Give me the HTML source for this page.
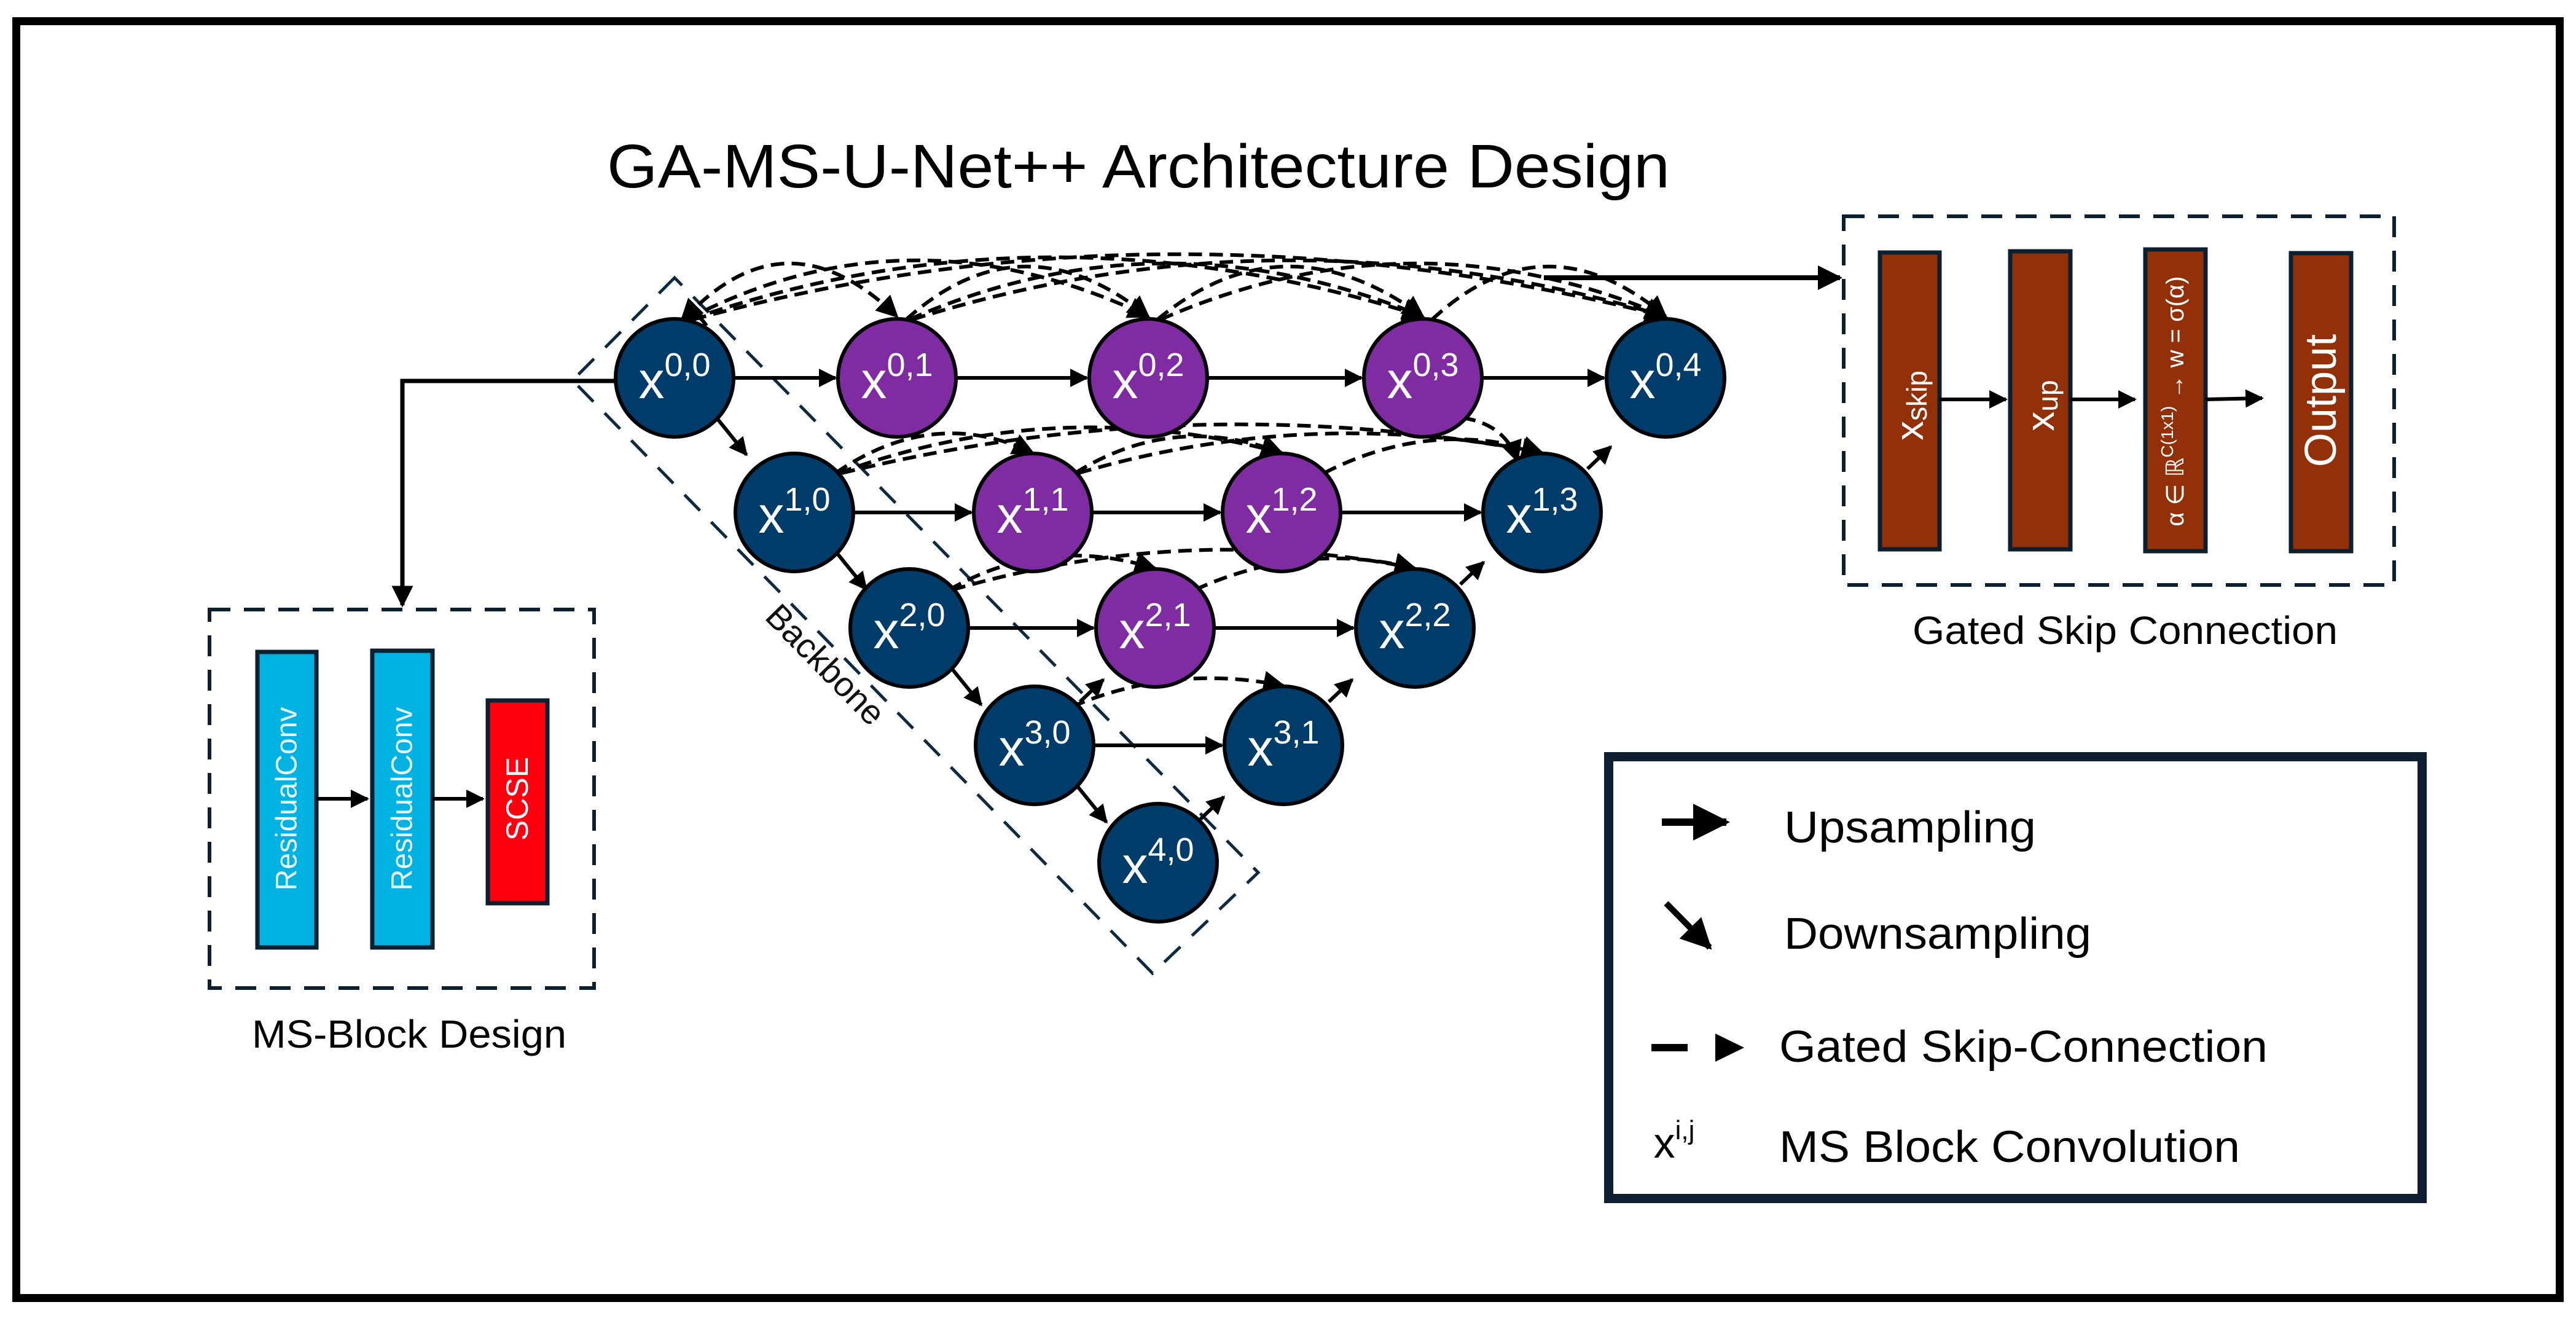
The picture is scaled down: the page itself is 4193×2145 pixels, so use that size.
<!DOCTYPE html>
<html><head><meta charset="utf-8"><style>html,body{margin:0;padding:0;background:#fff}svg{display:block}</style></head>
<body>
<svg xmlns="http://www.w3.org/2000/svg" width="4193" height="2145" viewBox="0 0 4193 2145" font-family="Liberation Sans, sans-serif">
<defs>
<marker id="ah" viewBox="0 0 10 10" refX="9" refY="5" markerWidth="5" markerHeight="5" orient="auto" markerUnits="strokeWidth"><path d="M0,0 L10,5 L0,10 z" fill="#000"/></marker>
<marker id="ahs" viewBox="0 0 10 10" refX="9" refY="5" markerWidth="6" markerHeight="6" orient="auto" markerUnits="strokeWidth"><path d="M0,0 L10,5 L0,10 z" fill="#000"/></marker>
</defs>
<rect x="0" y="0" width="4193" height="2145" fill="#fff"/>
<rect x="26.5" y="34.5" width="4140" height="2078" fill="none" stroke="#000" stroke-width="13"/>

<text x="1853" y="305" font-size="100" text-anchor="middle" textLength="1730" lengthAdjust="spacingAndGlyphs">GA-MS-U-Net++ Architecture Design</text>

<!-- backbone -->
<polygon points="1098,452 932,619 1876,1584 2048,1420" fill="none" stroke="#0d2a40" stroke-width="5" stroke-dasharray="36,26"/>
<text transform="translate(1330,1095) rotate(45.6)" font-size="56" text-anchor="middle" fill="#111">Backbone</text>

<!-- input lines -->
<path d="M1001,620 L655,620 L655,985" fill="none" stroke="#000" stroke-width="7" marker-end="url(#ah)"/>
<path d="M2513,452 L2995,452" fill="none" stroke="#000" stroke-width="8" marker-end="url(#ah)"/>

<!-- dashed skip arcs row0 -->
<g fill="none" stroke="#000" stroke-width="6" stroke-dasharray="22,12" marker-end="url(#ahs)">
<path d="M1113,520 Q1279,340 1460,515"/>
<path d="M1118,520 Q1480,330 1869,515"/>
<path d="M1123,520 Q1700,320 2316,515"/>
<path d="M1128,520 Q1900,310 2711,515"/>
<path d="M1475,520 Q1665,350 1869,515"/>
<path d="M1480,520 Q1890,340 2316,515"/>
<path d="M1485,520 Q2090,330 2711,515"/>
<path d="M1884,520 Q2090,350 2316,515"/>
<path d="M1889,520 Q2300,340 2711,515"/>
<path d="M2331,520 Q2515,350 2711,515"/>
<path d="M1150,530 Q1130,500 1110,520" />
<!-- row1 -->
<path d="M1360,770 Q1520,660 1681,737"/>
<path d="M1365,770 Q1720,640 2086,737"/>
<path d="M1370,770 Q1940,630 2510,737"/>
<path d="M1750,770 Q1910,670 2086,737"/>
<path d="M1755,770 Q2130,660 2510,737"/>
<path d="M2155,770 Q2330,680 2510,737"/>
<path d="M2380,680 Q2450,690 2470,750"/>
<!-- row2 -->
<path d="M1545,960 Q1700,870 1880,925"/>
<path d="M1550,960 Q1930,850 2303,925"/>
<path d="M1945,960 Q2120,880 2303,925"/>
<!-- row3 -->
<path d="M1745,1150 Q1910,1080 2089,1116"/>
</g>

<!-- solid horizontal arrows -->
<g stroke="#000" stroke-width="6" marker-end="url(#ah)">
<line x1="1195" y1="615" x2="1360" y2="615"/>
<line x1="1557" y1="615" x2="1769" y2="615"/>
<line x1="1966" y1="615" x2="2216" y2="615"/>
<line x1="2413" y1="615" x2="2611" y2="615"/>
<line x1="1390" y1="834" x2="1581" y2="834"/>
<line x1="1778" y1="834" x2="1986" y2="834"/>
<line x1="2183" y1="834" x2="2410" y2="834"/>
<line x1="1577" y1="1022" x2="1780" y2="1022"/>
<line x1="1977" y1="1022" x2="2203" y2="1022"/>
<line x1="1781" y1="1213" x2="1989" y2="1213"/>
<!-- down arrows -->
<line x1="1168" y1="682" x2="1215" y2="740"/>
<line x1="1363" y1="901" x2="1410" y2="959"/>
<line x1="1550" y1="1089" x2="1597" y2="1147"/>
<line x1="1754" y1="1280" x2="1801" y2="1338"/>
<!-- up arrows -->
<line x1="2584" y1="763" x2="2622" y2="727"/>
<line x1="2377" y1="951" x2="2415" y2="915"/>
<line x1="2163" y1="1142" x2="2201" y2="1106"/>
<line x1="1954" y1="1333" x2="1992" y2="1297"/>
<line x1="1758" y1="1142" x2="1796" y2="1106"/>
</g>

<!-- nodes -->
<g stroke="#000" stroke-width="6">
<circle cx="1098" cy="615" r="96" fill="#003c69"/>
<circle cx="1460" cy="615" r="96" fill="#7f2ba1"/>
<circle cx="1869" cy="615" r="96" fill="#7f2ba1"/>
<circle cx="2316" cy="615" r="96" fill="#7f2ba1"/>
<circle cx="2711" cy="615" r="96" fill="#003c69"/>
<circle cx="1293" cy="834" r="96" fill="#003c69"/>
<circle cx="1681" cy="834" r="96" fill="#7f2ba1"/>
<circle cx="2086" cy="834" r="96" fill="#7f2ba1"/>
<circle cx="2510" cy="834" r="96" fill="#003c69"/>
<circle cx="1480" cy="1022" r="96" fill="#003c69"/>
<circle cx="1880" cy="1022" r="96" fill="#7f2ba1"/>
<circle cx="2303" cy="1022" r="96" fill="#003c69"/>
<circle cx="1684" cy="1213" r="96" fill="#003c69"/>
<circle cx="2089" cy="1213" r="96" fill="#003c69"/>
<circle cx="1885" cy="1404" r="96" fill="#003c69"/>
</g>
<g fill="#fff" font-size="84" text-anchor="middle">
<text x="1098" y="648">x<tspan font-size="54" dy="-36">0,0</tspan></text>
<text x="1460" y="648">x<tspan font-size="54" dy="-36">0,1</tspan></text>
<text x="1869" y="648">x<tspan font-size="54" dy="-36">0,2</tspan></text>
<text x="2316" y="648">x<tspan font-size="54" dy="-36">0,3</tspan></text>
<text x="2711" y="648">x<tspan font-size="54" dy="-36">0,4</tspan></text>
<text x="1293" y="867">x<tspan font-size="54" dy="-36">1,0</tspan></text>
<text x="1681" y="867">x<tspan font-size="54" dy="-36">1,1</tspan></text>
<text x="2086" y="867">x<tspan font-size="54" dy="-36">1,2</tspan></text>
<text x="2510" y="867">x<tspan font-size="54" dy="-36">1,3</tspan></text>
<text x="1480" y="1055">x<tspan font-size="54" dy="-36">2,0</tspan></text>
<text x="1880" y="1055">x<tspan font-size="54" dy="-36">2,1</tspan></text>
<text x="2303" y="1055">x<tspan font-size="54" dy="-36">2,2</tspan></text>
<text x="1684" y="1246">x<tspan font-size="54" dy="-36">3,0</tspan></text>
<text x="2089" y="1246">x<tspan font-size="54" dy="-36">3,1</tspan></text>
<text x="1885" y="1437">x<tspan font-size="54" dy="-36">4,0</tspan></text>
</g>

<!-- MS block -->
<rect x="341" y="992" width="626" height="616" fill="none" stroke="#0d2030" stroke-width="6" stroke-dasharray="34,22"/>
<rect x="419" y="1061" width="96" height="481" fill="#00b2e2" stroke="#0d2030" stroke-width="7"/>
<rect x="606" y="1059" width="98" height="483" fill="#00b2e2" stroke="#0d2030" stroke-width="7"/>
<rect x="794" y="1140" width="97" height="330" fill="#ff0010" stroke="#0d2030" stroke-width="7"/>
<text transform="translate(467,1300) rotate(-90)" font-size="48" fill="#e8f8ff" text-anchor="middle" dominant-baseline="central">ResidualConv</text>
<text transform="translate(655,1300) rotate(-90)" font-size="48" fill="#e8f8ff" text-anchor="middle" dominant-baseline="central">ResidualConv</text>
<text transform="translate(842,1300) rotate(-90)" font-size="50" fill="#fff" text-anchor="middle" dominant-baseline="central">SCSE</text>
<g stroke="#000" stroke-width="6" marker-end="url(#ah)">
<line x1="515" y1="1300" x2="598" y2="1300"/>
<line x1="704" y1="1300" x2="786" y2="1300"/>
</g>
<text x="666" y="1705" font-size="64" text-anchor="middle" textLength="512" lengthAdjust="spacingAndGlyphs">MS-Block Design</text>

<!-- Gated skip -->
<rect x="3001" y="352" width="896" height="600" fill="none" stroke="#0d2030" stroke-width="6" stroke-dasharray="34,22"/>
<g fill="#92300a" stroke="#0d2030" stroke-width="7">
<rect x="3060" y="411" width="97" height="483"/>
<rect x="3272" y="409" width="98" height="485"/>
<rect x="3492" y="406" width="98" height="491"/>
<rect x="3729" y="412" width="98" height="485"/>
</g>
<g fill="#fff" text-anchor="middle" dominant-baseline="central">
<text transform="translate(3108,660) rotate(-90)" font-size="64">x<tspan font-size="46" dy="12">skip</tspan></text>
<text transform="translate(3321,660) rotate(-90)" font-size="64">x<tspan font-size="46" dy="12">up</tspan></text>
<text transform="translate(3541,653) rotate(-90)" font-size="40">α ∈ ℝ<tspan font-size="28" dy="-14">C(1x1)</tspan><tspan dy="14"> → w = σ(α)</tspan></text>
<text transform="translate(3778,652) rotate(-90)" font-size="72">Output</text>
</g>
<g stroke="#000" stroke-width="6" marker-end="url(#ah)">
<line x1="3157" y1="650" x2="3265" y2="650"/>
<line x1="3370" y1="650" x2="3475" y2="650"/>
<line x1="3590" y1="650" x2="3682" y2="648"/>
</g>
<text x="3459" y="1048" font-size="64" text-anchor="middle" textLength="692" lengthAdjust="spacingAndGlyphs">Gated Skip Connection</text>

<!-- legend -->
<rect x="2618.5" y="1231.5" width="1324" height="719" fill="none" stroke="#0d1f30" stroke-width="15"/>
<line x1="2705" y1="1338" x2="2810" y2="1338" stroke="#000" stroke-width="12" marker-end="url(#ah)"/>
<line x1="2712" y1="1470" x2="2783" y2="1542" stroke="#000" stroke-width="10" marker-end="url(#ah)"/>
<line x1="2688" y1="1705" x2="2747" y2="1705" stroke="#000" stroke-width="12"/>
<path d="M2792,1682 L2839,1705 L2792,1728 z" fill="#000"/>
<text x="2725" y="1884" font-size="70" text-anchor="middle">x<tspan font-size="44" dy="-30">i,j</tspan></text>
<g font-size="72">
<text x="2904" y="1371" textLength="410" lengthAdjust="spacingAndGlyphs">Upsampling</text>
<text x="2904" y="1544" textLength="500" lengthAdjust="spacingAndGlyphs">Downsampling</text>
<text x="2896" y="1728" textLength="795" lengthAdjust="spacingAndGlyphs">Gated Skip-Connection</text>
<text x="2896" y="1891" textLength="750" lengthAdjust="spacingAndGlyphs">MS Block Convolution</text>
</g>
</svg>
</body></html>
